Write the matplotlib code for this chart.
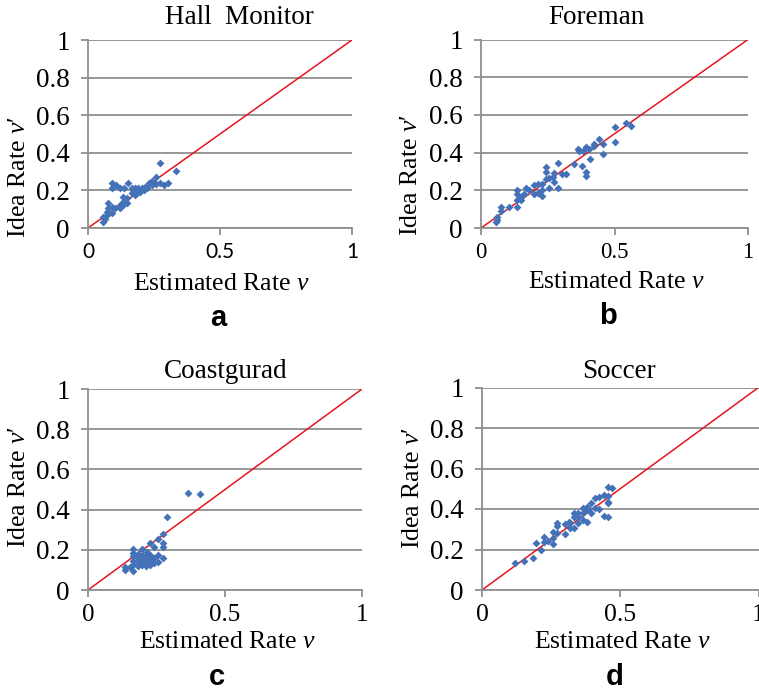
import matplotlib
matplotlib.use("Agg")
import matplotlib.pyplot as plt

plt.rcParams['font.family'] = ['Liberation Serif', 'DejaVu Serif']
plt.rcParams['mathtext.fontset'] = 'custom'
plt.rcParams['mathtext.rm'] = 'Liberation Serif'
plt.rcParams['mathtext.it'] = 'Liberation Serif:italic'

# (a) Hall Monitor
hall_x = [0.274, 0.335, 0.090, 0.090, 0.106, 0.122, 0.137, 0.153, 0.168, 0.179,
          0.191, 0.204, 0.166, 0.185, 0.198, 0.217, 0.230, 0.242, 0.259, 0.259,
          0.274, 0.286, 0.303, 0.242, 0.223, 0.077, 0.077, 0.090, 0.103, 0.122,
          0.122, 0.134, 0.134, 0.147, 0.134, 0.147, 0.071, 0.071, 0.058, 0.058,
          0.065, 0.090, 0.172, 0.179, 0.211]
hall_y = [0.347, 0.303, 0.241, 0.211, 0.229, 0.211, 0.211, 0.241, 0.211, 0.211,
          0.211, 0.211, 0.185, 0.185, 0.193, 0.220, 0.241, 0.252, 0.273, 0.232,
          0.241, 0.229, 0.241, 0.229, 0.211, 0.135, 0.105, 0.113, 0.105, 0.105,
          0.122, 0.140, 0.166, 0.158, 0.122, 0.131, 0.087, 0.069, 0.060, 0.034,
          0.047, 0.078, 0.202, 0.176, 0.202]

# (b) Foreman
fore_x = [0.544, 0.563, 0.500, 0.500, 0.456, 0.441, 0.425, 0.425, 0.406, 0.393,
          0.381, 0.362, 0.368, 0.410, 0.456, 0.379, 0.393, 0.393, 0.350, 0.287,
          0.318, 0.303, 0.274, 0.243, 0.243, 0.274, 0.256, 0.287, 0.256, 0.228,
          0.212, 0.197, 0.228, 0.228, 0.212, 0.197, 0.180, 0.168, 0.162, 0.134,
          0.134, 0.149, 0.134, 0.149, 0.134, 0.103, 0.074, 0.074, 0.061, 0.061,
          0.058, 0.243, 0.268]
fore_y = [0.555, 0.542, 0.537, 0.454, 0.448, 0.471, 0.448, 0.436, 0.419, 0.428,
          0.410, 0.419, 0.410, 0.366, 0.392, 0.331, 0.296, 0.278, 0.340, 0.343,
          0.287, 0.287, 0.290, 0.322, 0.299, 0.246, 0.266, 0.213, 0.213, 0.234,
          0.234, 0.229, 0.199, 0.172, 0.185, 0.181, 0.199, 0.213, 0.181, 0.199,
          0.181, 0.163, 0.146, 0.149, 0.114, 0.114, 0.110, 0.092, 0.057, 0.040,
          0.031, 0.260, 0.269]

# (c) Coastguard
coast_x = [0.364, 0.409, 0.288, 0.273, 0.257, 0.273, 0.273, 0.227, 0.242, 0.166,
           0.166, 0.197, 0.215, 0.181, 0.197, 0.212, 0.227, 0.257, 0.273, 0.242,
           0.227, 0.197, 0.166, 0.181, 0.212, 0.242, 0.257, 0.197, 0.181, 0.227,
           0.166, 0.152, 0.136, 0.136, 0.166, 0.212, 0.166, 0.181, 0.212, 0.227]
coast_y = [0.484, 0.476, 0.365, 0.277, 0.252, 0.232, 0.216, 0.235, 0.216, 0.202,
           0.186, 0.202, 0.191, 0.177, 0.174, 0.169, 0.174, 0.174, 0.158, 0.158,
           0.149, 0.149, 0.146, 0.141, 0.136, 0.136, 0.141, 0.124, 0.119, 0.124,
           0.124, 0.116, 0.116, 0.100, 0.095, 0.119, 0.169, 0.158, 0.158, 0.166]

# (d) Soccer
soccer_x = [0.120, 0.153, 0.183, 0.196, 0.213, 0.226, 0.226, 0.240, 0.256, 0.256,
            0.256, 0.270, 0.273, 0.273, 0.300, 0.300, 0.316, 0.319, 0.333, 0.333,
            0.333, 0.349, 0.349, 0.364, 0.364, 0.364, 0.379, 0.379, 0.385, 0.393,
            0.393, 0.409, 0.409, 0.424, 0.424, 0.441, 0.441, 0.457, 0.457, 0.457,
            0.457, 0.470, 0.457, 0.319, 0.349, 0.372]
soccer_y = [0.135, 0.145, 0.156, 0.234, 0.197, 0.263, 0.238, 0.243, 0.288, 0.255,
            0.227, 0.280, 0.329, 0.316, 0.276, 0.326, 0.337, 0.304, 0.382, 0.362,
            0.304, 0.362, 0.332, 0.403, 0.378, 0.345, 0.411, 0.337, 0.398, 0.428,
            0.378, 0.403, 0.452, 0.457, 0.398, 0.469, 0.365, 0.510, 0.464, 0.428,
            0.359, 0.502, 0.436, 0.329, 0.378, 0.395]

diag = [0, 1]
yticks = [0, 0.2, 0.4, 0.6, 0.8, 1]
ytick_labels = ['0', '0.2', '0.4', '0.6', '0.8', '1']
xticks = [0, 0.5, 1]
xtick_labels = ['0', '0.5', '1']

W, H = 759, 695
fig = plt.figure(figsize=(W / 100, H / 100), dpi=100)

serif = 'Liberation Serif'
gray = '#8f8f8f'
blue = '#4472b8'
red = '#e8141c'

panels = [
    # x, y, axes box in px (left, top, right, bottom), title, title pos, xlabel pos, ylabel pos,
    # letter, letter pos, x tick font, x tick size
    (hall_x, hall_y, (88, 40, 352, 228), 'Hall  Monitor', (239, 18), (221, 284), (19, 177), 'a', (218, 318), 'Lato', 15),
    (fore_x, fore_y, (481, 39.5, 748, 228), 'Foreman', (596, 18), (616, 282), (411, 175), 'b', (608, 316), serif, 16.5),
    (coast_x, coast_y, (88, 389, 362, 590), 'Coastgurad', (226, 371), (227, 642), (19, 487), 'c', (217, 677), serif, 18),
    (soccer_x, soccer_y, (482, 387.5, 758.5, 590), 'Soccer', (619, 371), (622, 642), (413, 488), 'd', (615, 677), serif, 18.5),
]

for xs, ys, box, title, tpos, xlpos, ylpos, letter, lpos, xfont, xsize in panels:
    l, t, r, b = box
    ax = fig.add_axes([l / W, 1 - b / H, (r - l) / W, (b - t) / H])
    ax.set_xlim(0, 1)
    ax.set_ylim(0, 1)
    ax.yaxis.grid(True, color=gray, linewidth=1.3)
    ax.set_axisbelow(True)
    for side in ['top', 'right']:
        ax.spines[side].set_visible(False)
    for side in ['left', 'bottom']:
        ax.spines[side].set_color(gray)
        ax.spines[side].set_linewidth(1.3)
    ax.set_yticks(yticks)
    ax.set_yticklabels(ytick_labels, fontfamily=serif, fontsize=19.5)
    ax.set_xticks(xticks)
    ax.set_xticklabels(xtick_labels, fontfamily=xfont, fontsize=xsize)
    ax.tick_params(axis='both', color=gray, width=1.3, length=5, direction='out')
    ax.tick_params(axis='y', pad=8)
    ax.tick_params(axis='x', pad=5)

    ax.plot(diag, diag, color=red, linewidth=1.1, zorder=2)
    ax.scatter(xs, ys, marker='D', s=16, color=blue, linewidths=0, zorder=3, clip_on=False)

    fig.text(tpos[0] / W, 1 - tpos[1] / H, title, family=serif, fontsize=19.5,
             ha='center', va='center')
    fig.text(xlpos[0] / W, 1 - xlpos[1] / H, 'Estimated Rate $v$', family=serif,
             fontsize=18.5, ha='center', va='center')
    fig.text(ylpos[0] / W, 1 - ylpos[1] / H, 'Idea Rate $v$\u2032', family=serif,
             fontsize=18.5, ha='center', va='center', rotation=90)
    fig.text(lpos[0] / W, 1 - lpos[1] / H, letter, family='Liberation Sans',
             fontweight='bold', fontsize=21, ha='center', va='center')

fig.savefig('out.png', dpi=100)
